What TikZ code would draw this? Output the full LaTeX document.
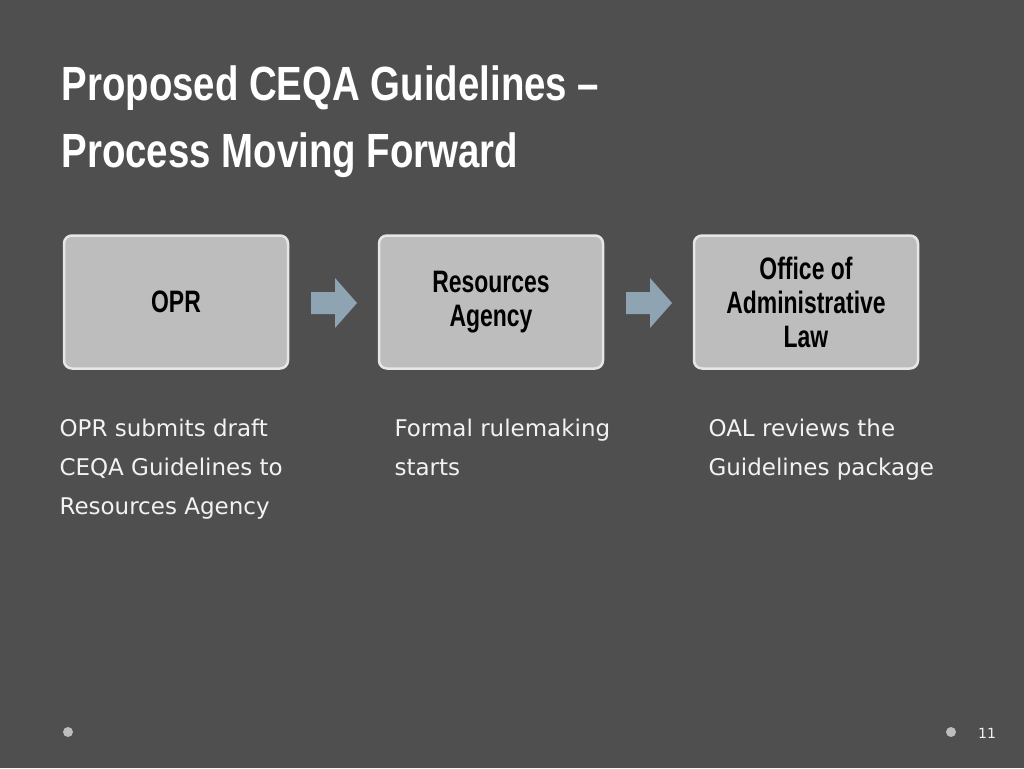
\documentclass[tikz,border=0pt]{standalone}
\usepackage{fontspec}
\setmainfont{Liberation Sans}
\newfontfamily\condfont[FakeStretch=0.74]{Liberation Sans}
\newfontfamily\titlefont[FakeStretch=0.8]{Liberation Sans}
\newfontfamily\bodyfont{DejaVu Sans}
\definecolor{bg}{HTML}{4F4F4F}
\definecolor{boxfill}{HTML}{BDBDBD}
\definecolor{boxline}{HTML}{E6E6E6}
\definecolor{arr}{HTML}{8FA4B2}
\definecolor{txt}{HTML}{F2F2F2}
\tikzset{
 stepbox/.style={draw=boxline,line width=2.5pt,fill=boxfill,rounded corners=8pt,minimum width=224pt,minimum height=133pt,align=center,font=\condfont\bfseries\fontsize{31}{34}\selectfont,text=black},
 desc/.style={anchor=north west,align=left,text=txt,font=\bodyfont\fontsize{23}{39}\selectfont},
 dot/.style={circle,fill=boxfill,minimum size=10pt,inner sep=0pt}
}
\begin{document}
\begin{tikzpicture}[x=1pt,y=-1pt]
\fill[bg] (0,0) rectangle (1024,768);
\useasboundingbox (0,0) rectangle (1024,768);
\node[anchor=west,text=white,align=left,font=\titlefont\bfseries\fontsize{48}{67}\selectfont] (title) at (58,122) {Proposed CEQA Guidelines –\\Process Moving Forward};
\node[stepbox] (b1) at (176,302) {OPR};
\node[stepbox] (b2) at (491,302) {Resources\\Agency};
\node[stepbox] (b3) at (806,302) {Office of\\Administrative\\Law};
\foreach \n/\x in {a1/311,a2/626}{
 \fill[arr] (\x,292) -- (\x+24,292) -- (\x+24,278) -- (\x+46,303) -- (\x+24,328) -- (\x+24,314) -- (\x,314) -- cycle;
}
\node[desc] (d1) at (56,415) {OPR submits draft\\CEQA Guidelines to\\Resources Agency};
\node[desc] (d2) at (391,415) {Formal rulemaking\\starts};
\node[desc] (d3) at (705,415) {OAL reviews the\\Guidelines package};
\node[dot] (p1) at (68,732) {};
\node[dot] (p2) at (951,732) {};
\node[text=txt,font=\bodyfont\fontsize{14}{15}\selectfont] (pg) at (987,733) {11};
\end{tikzpicture}
\end{document}
